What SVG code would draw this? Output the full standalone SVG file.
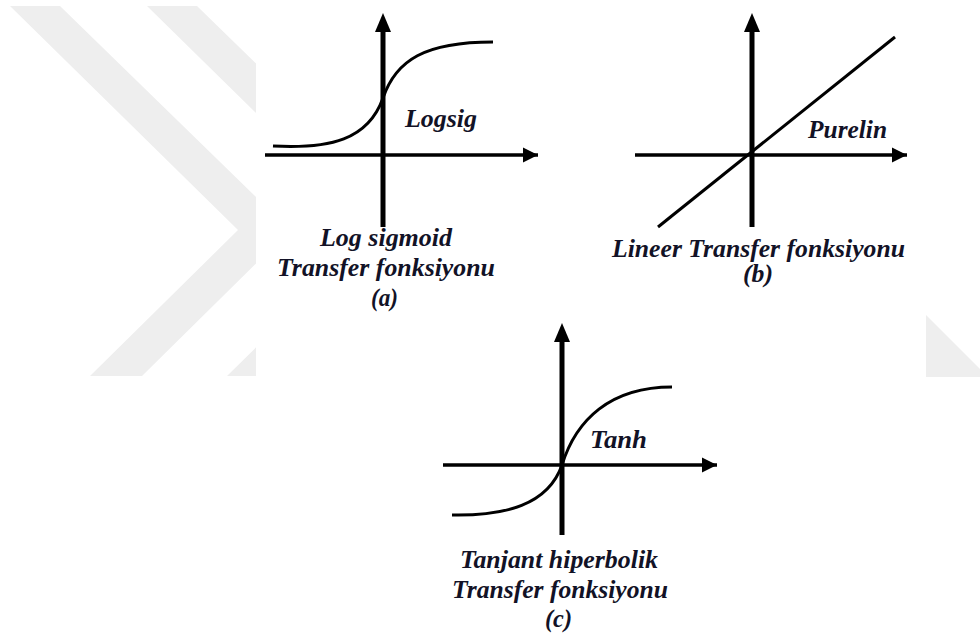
<svg xmlns="http://www.w3.org/2000/svg" width="980" height="639" viewBox="0 0 980 639">
<style>
.wm{fill:#eeeeee;stroke:none}
.vaxis{stroke:#000;stroke-width:5;fill:none}
.haxis{stroke:#000;stroke-width:3.5;fill:none}
.curve{stroke:#000;stroke-width:3;fill:none}
.lbl{font-family:"Liberation Serif","Times New Roman",serif;font-weight:bold;font-style:italic;font-size:25px;fill:#121226}
</style>
<defs>
<marker id="head" markerUnits="userSpaceOnUse" markerWidth="16" markerHeight="16" viewBox="0 0 16 16" refX="15" refY="8" orient="auto">
<path d="M15,8 L0,0.5 L0,15.5 Z" fill="#000"/>
</marker>
</defs>
<rect x="0" y="0" width="980" height="639" fill="#fff"/>
<g id="watermark">
<polygon class="wm" points="10,6 60,6 290,230 142,376 90,376 238,230"/>
<polygon class="wm" points="147,6 197,6 427,230 279,376 227,376 375,230"/>
<rect x="256" y="0" width="670" height="390" fill="#fff"/>
<polygon class="wm" points="926,315 980,369 980,377 926,377"/>
</g>
<g id="connectors">
<line class="haxis" x1="265" y1="155" x2="538" y2="155" marker-end="url(#head)"/>
<line class="vaxis" x1="383" y1="227" x2="383" y2="20"/>
<path d="M383,13 L391,32 L375,32 Z" fill="#000"/>
<line class="haxis" x1="635" y1="155" x2="907" y2="155" marker-end="url(#head)"/>
<line class="vaxis" x1="752" y1="227" x2="752" y2="20"/>
<path d="M752,13 L760,32 L744,32 Z" fill="#000"/>
<line class="haxis" x1="443" y1="465" x2="717" y2="465" marker-end="url(#head)"/>
<line class="vaxis" x1="562" y1="535" x2="562" y2="330"/>
<path d="M562,323 L570,342 L554,342 Z" fill="#000"/>
</g>
<g id="logsig">
<path class="curve" d="M273,146 C330,149 368,140 383,98 C396,60 425,42 493,42"/>
<text class="lbl" x="405" y="127" textLength="72" lengthAdjust="spacingAndGlyphs">Logsig</text>
<text class="lbl" x="320" y="246" textLength="132" lengthAdjust="spacingAndGlyphs">Log sigmoid</text>
<text class="lbl" x="277" y="276" textLength="218" lengthAdjust="spacingAndGlyphs">Transfer fonksiyonu</text>
<text class="lbl" x="371" y="306" textLength="27" lengthAdjust="spacingAndGlyphs">(a)</text>
</g>
<g id="purelin">
<line class="curve" x1="658" y1="227" x2="895" y2="37"/>
<text class="lbl" x="808" y="138" textLength="79" lengthAdjust="spacingAndGlyphs">Purelin</text>
<text class="lbl" x="612" y="257" textLength="293" lengthAdjust="spacingAndGlyphs">Lineer Transfer fonksiyonu</text>
<text class="lbl" x="743" y="282" textLength="30" lengthAdjust="spacingAndGlyphs">(b)</text>
</g>
<g id="tanh">
<path class="curve" d="M452,515 C505,516 548,505 562,465 C576,420 610,387 672,387"/>
<text class="lbl" x="590" y="448" textLength="57" lengthAdjust="spacingAndGlyphs">Tanh</text>
<text class="lbl" x="460" y="568" textLength="198" lengthAdjust="spacingAndGlyphs">Tanjant hiperbolik</text>
<text class="lbl" x="452" y="598" textLength="216" lengthAdjust="spacingAndGlyphs">Transfer fonksiyonu</text>
<text class="lbl" x="545" y="627" textLength="27" lengthAdjust="spacingAndGlyphs">(c)</text>
</g>
</svg>
